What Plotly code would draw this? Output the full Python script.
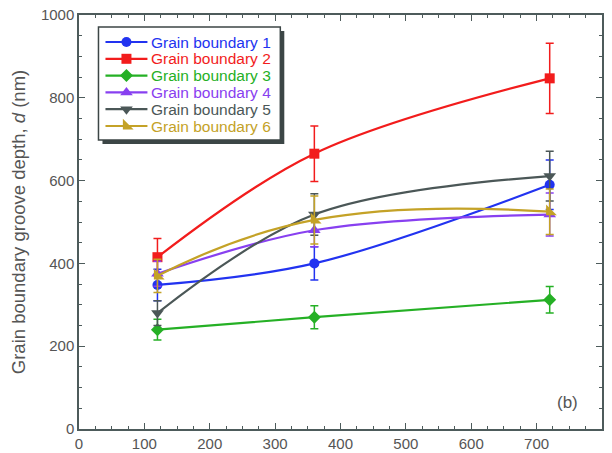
import plotly.graph_objects as go

x_vals = [120, 360, 720]
names = ["Grain boundary 1", "Grain boundary 2", "Grain boundary 3",
         "Grain boundary 4", "Grain boundary 5", "Grain boundary 6"]
gb1 = [348, 400, 590]
gb2 = [415, 665, 847]
gb3 = [240, 270, 312]
gb4 = [375, 480, 518]
gb5 = [280, 518, 611]
gb6 = [370, 505, 525]
err1 = [38, 40, 60]
err2 = [45, 67, 85]
err3 = [25, 28, 32]
err4 = [30, 40, 52]
err5 = [30, 50, 60]
err6 = [40, 58, 55]

series = [gb1, gb2, gb3, gb4, gb5, gb6]
errors = [err1, err2, err3, err4, err5, err6]
colors = ["#2233f0", "#f21c1c", "#25b025", "#8840f0", "#4b5757", "#c4a227"]
symbols = ["circle", "square", "diamond", "triangle-up", "triangle-down", "triangle-sw"]
msizes = [10, 10, 10, 11, 11, 12]
smooth = [1.0, 1.0, 1.0, 1.0, 1.0, 1.3]

# plot area geometry (pixels)
W, H = 612, 453
L, R, T, B = 78.5, 10, 15, 24
PW, PH = W - L - R, H - T - B
XR, YR = [0, 800], [0, 1000]

def px2x(px):
    return XR[0] + (px - L) / PW * (XR[1] - XR[0])

def py2y(py):
    return YR[0] + (H - B - py) / PH * (YR[1] - YR[0])

fig = go.Figure()
for nm, ys, er, c, s, ms, sm in zip(names, series, errors, colors, symbols, msizes, smooth):
    fig.add_trace(go.Scatter(
        x=x_vals, y=ys, mode="lines+markers", name=nm, showlegend=False,
        line=dict(color=c, width=2.2, shape="spline", smoothing=sm),
        marker=dict(symbol=s, size=ms, color=c),
        error_y=dict(type="data", array=er, visible=True, color=c, thickness=1.5, width=4),
    ))

# custom legend (box, shadow, glyphs, coloured labels)
box = dict(x0=98, x1=280, y0=27, y1=140)
shapes = [
    dict(type="rect", xref="x", yref="y",
         x0=px2x(box["x0"] + 4), x1=px2x(box["x1"] + 4),
         y0=py2y(box["y1"] + 4), y1=py2y(box["y0"] + 4),
         fillcolor="#3c4646", line=dict(width=0), layer="below"),
    dict(type="rect", xref="x", yref="y",
         x0=px2x(box["x0"]), x1=px2x(box["x1"]),
         y0=py2y(box["y1"]), y1=py2y(box["y0"]),
         fillcolor="white", line=dict(color="#3c4646", width=1.5), layer="below"),
]
annotations = []
row0, rowgap = 42, 16.8
for i, (nm, c, s, ms) in enumerate(zip(names, colors, symbols, msizes)):
    yy = py2y(row0 + rowgap * i)
    fig.add_trace(go.Scatter(
        x=[px2x(105), px2x(147)], y=[yy, yy], mode="lines", showlegend=False,
        hoverinfo="skip", line=dict(color=c, width=2.2)))
    fig.add_trace(go.Scatter(
        x=[px2x(126)], y=[yy], mode="markers", showlegend=False,
        hoverinfo="skip", marker=dict(symbol=s, size=ms, color=c)))
    annotations.append(dict(x=px2x(149), y=yy, xref="x", yref="y", text=nm,
                            xanchor="left", yanchor="middle", showarrow=False,
                            font=dict(size=15.5, color=c)))

annotations.append(dict(x=747, y=65, xref="x", yref="y", text="(b)", showarrow=False,
                        font=dict(size=17, color="#555555")))

axis_color = "#4d5b5b"
fig.update_layout(
    width=W, height=H,
    margin=dict(l=L, r=R, t=T, b=B),
    paper_bgcolor="white", plot_bgcolor="white",
    font=dict(family="Liberation Sans, Arial, sans-serif", color="#555555", size=15),
    showlegend=False,
    annotations=annotations,
    shapes=shapes,
)
fig.update_xaxes(
    range=XR, tickvals=[0, 100, 200, 300, 400, 500, 600, 700, 800],
    ticks="inside", ticklen=6, tickwidth=1.2, tickcolor=axis_color,
    minor=dict(dtick=25, ticks="inside", ticklen=3, tickcolor=axis_color, tickwidth=1),
    showline=True, linecolor=axis_color, linewidth=1.5, mirror="ticks",
    showgrid=False, zeroline=False, tickfont=dict(size=15),
    automargin=False, ticklabelstandoff=0,
)
fig.update_yaxes(
    range=YR, tickvals=[0, 200, 400, 600, 800, 1000],
    ticks="inside", ticklen=6, tickwidth=1.2, tickcolor=axis_color,
    minor=dict(dtick=50, ticks="inside", ticklen=3, tickcolor=axis_color, tickwidth=1),
    showline=True, linecolor=axis_color, linewidth=1.5, mirror="ticks",
    showgrid=False, zeroline=False, tickfont=dict(size=15),
    automargin=False,
    title=dict(text="Grain boundary groove depth, <i>d</i> (nm)", font=dict(size=18.5), standoff=10),
)
fig.write_html("out.html")
